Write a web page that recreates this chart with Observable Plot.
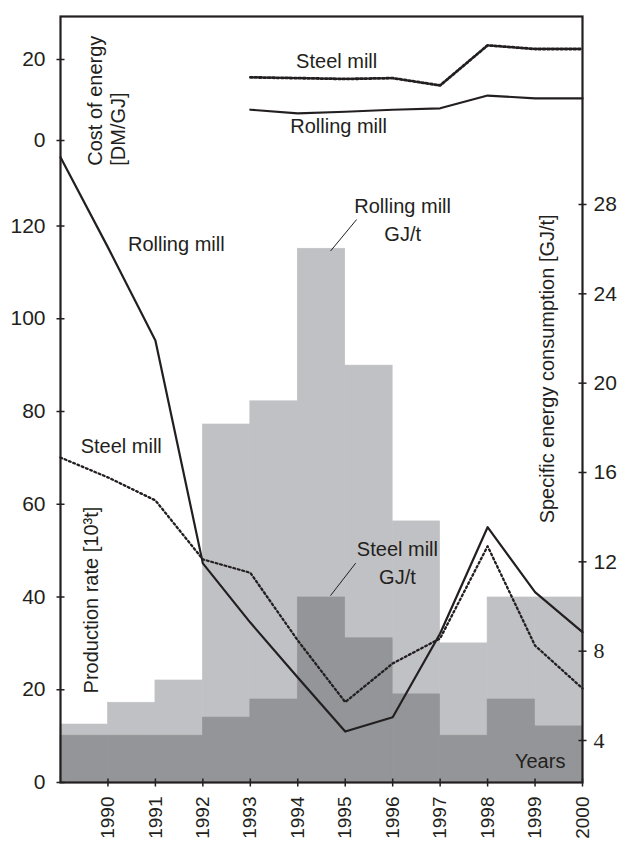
<!DOCTYPE html>
<html>
<head>
<meta charset="utf-8">
<script src="https://cdn.jsdelivr.net/npm/d3@7"></script>
<script src="https://cdn.jsdelivr.net/npm/@observablehq/plot@0.6"></script>
<style>
  html, body { margin: 0; padding: 0; background: #fff; }
  #chart svg { display: block; }
</style>
</head>
<body>
<div id="chart"></div>
<script>
// ---- data ----
const years = [1989, 1990, 1991, 1992, 1993, 1994, 1995, 1996, 1997, 1998, 1999, 2000];
const barYears = [1989, 1990, 1991, 1992, 1993, 1994, 1995, 1996, 1997, 1998, 1999];
// production rate bars [10^3 t]
const rollingBar = [12.5, 17.2, 22.0, 77.2, 82.2, 115.1, 89.9, 56.3, 30.0, 39.9, 39.9];
const steelBar   = [10.1, 10.1, 10.1, 14.0, 17.9, 39.9, 31.1, 19.0, 10.1, 17.9, 12.1];
// specific energy consumption lines [GJ/t]
const rollingGJ = [30.12, 26.08, 21.91, 11.93, 9.28, 6.82, 4.40, 5.04, 8.79, 13.55, 10.64, 8.85];
const steelGJ   = [16.67, 15.78, 14.75, 12.11, 11.51, 8.48, 5.72, 7.45, 8.57, 12.70, 8.25, 6.33];
// cost of energy lines [DM/GJ]
const costYears   = [1993, 1994, 1995, 1996, 1997, 1998, 1999, 2000];
const steelCost   = [15.6, 15.4, 15.2, 15.4, 13.6, 23.5, 22.6, 22.6];
const rollingCost = [7.6, 6.7, 7.1, 7.6, 7.95, 11.1, 10.4, 10.4];
// tick labels
const prodTicks = [0, 20, 40, 60, 80, 100, 120];
const costTicks = [0, 20];
const gjTicksSans = [12, 16, 20, 24, 28];
const gjTicksSerif = [4, 8];
const yearTicks = [1990, 1991, 1992, 1993, 1994, 1995, 1996, 1997, 1998, 1999, 2000];

// ---- secondary axes mapped into production units ----
const gjToY = v => 9.057 + (v - 4) * 4.816;
const yToGj = y => (y - 9.057) / 4.816 + 4;
const costToY = c => 138.44 + 0.8733 * c;
const yToCost = y => (y - 138.44) / 0.8733;

const bars = barYears.map((year, i) => ({year, rolling: rollingBar[i], steel: steelBar[i]}));
const gjLines = years.map((year, i) => ({year, rolling: rollingGJ[i], steel: steelGJ[i]}));
const costLines = costYears.map((year, i) => ({year, rolling: rollingCost[i], steel: steelCost[i]}));

// annotations (data coordinates: year, production units)
const labels = [
  {x: 1994.82, y: 155.5, text: "Steel mill"},
  {x: 1994.86, y: 141.5, text: "Rolling mill"},
  {x: 1991.44, y: 116.0, text: "Rolling mill"},
  {x: 1990.28, y: 72.4, text: "Steel mill"}
];
const blockLabels = [
  {x: 1996.21, y: 121.7, text: "Rolling mill\nGJ/t"},
  {x: 1996.10, y: 47.8, text: "Steel mill\nGJ/t"}
];
const leaders = [
  {x1: 1995.24, y1: 121.4, x2: 1994.69, y2: 114.6},
  {x1: 1995.22, y1: 47.3, x2: 1994.69, y2: 40.3}
];

const ink = "#231f20";
const lightGray = "#c0c1c4";
const darkGray = "#939598";
const hTick = {draw(ctx) { ctx.moveTo(-4, 0); ctx.lineTo(4, 0); }};
const vTick = {draw(ctx) { ctx.moveTo(0, -4); ctx.lineTo(0, 4); }};

const chart = Plot.plot({
  width: 618,
  height: 843,
  marginLeft: 60,
  marginRight: 36,
  marginTop: 16,
  marginBottom: 61,
  x: {domain: [1989, 2000], axis: null},
  y: {domain: [0, 165.18], axis: null},
  style: {fontFamily: "'Liberation Sans', Arial, sans-serif", background: "#fff", color: ink},
  marks: [
    Plot.rect(bars, {x1: "year", x2: d => d.year + 1, y1: 0, y2: "rolling", fill: lightGray, stroke: lightGray, strokeWidth: 0.6}),
    Plot.rect(bars, {x1: "year", x2: d => d.year + 1, y1: 0, y2: "steel", fill: darkGray, stroke: darkGray, strokeWidth: 0.6}),
    Plot.line(gjLines, {x: "year", y: d => gjToY(d.rolling), stroke: ink, strokeWidth: 2.2}),
    Plot.line(gjLines, {x: "year", y: d => gjToY(d.steel), stroke: ink, strokeWidth: 2.3, strokeDasharray: "1.8,2.8"}),
    Plot.line(costLines, {x: "year", y: d => costToY(d.rolling), stroke: ink, strokeWidth: 2.2}),
    Plot.line(costLines, {x: "year", y: d => costToY(d.steel), stroke: ink, strokeWidth: 2.8, strokeDasharray: "2.2,2.2"}),
    Plot.link(leaders, {x1: "x1", y1: "y1", x2: "x2", y2: "y2", stroke: ink, strokeWidth: 1}),
    Plot.frame({stroke: ink, strokeWidth: 2.2}),
    // ticks crossing the axes
    Plot.dot(prodTicks, {y: d => d, frameAnchor: "left", symbol: hTick, stroke: ink, fill: "none", strokeWidth: 1.5}),
    Plot.dot(costTicks, {y: d => costToY(d), frameAnchor: "left", symbol: hTick, stroke: ink, fill: "none", strokeWidth: 1.5}),
    Plot.dot(gjTicksSans.concat(gjTicksSerif), {y: d => gjToY(d), frameAnchor: "right", symbol: hTick, stroke: ink, fill: "none", strokeWidth: 1.5}),
    Plot.dot(yearTicks, {x: d => d, frameAnchor: "bottom", symbol: vTick, stroke: ink, fill: "none", strokeWidth: 1.5}),
    // axes labels
    Plot.axisY(prodTicks, {anchor: "left", tickSize: 0, tickPadding: 15, fontSize: 21, label: null, tickFormat: d => String(d)}),
    Plot.axisY(costTicks.map(costToY), {anchor: "left", tickSize: 0, tickPadding: 15, fontSize: 21, label: null, tickFormat: y => String(Math.round(yToCost(y)))}),
    Plot.axisY(gjTicksSans.map(gjToY), {anchor: "right", tickSize: 0, tickPadding: 11, fontSize: 21, label: null, tickFormat: y => String(Math.round(yToGj(y)))}),
    Plot.axisY(gjTicksSerif.map(gjToY), {anchor: "right", tickSize: 0, tickPadding: 11, fontSize: 22, label: null, fontFamily: "'Liberation Serif', 'Times New Roman', serif", tickFormat: y => String(Math.round(yToGj(y)))}),
    Plot.axisX(yearTicks, {anchor: "bottom", tickSize: 0, tickPadding: 14, tickRotate: -90, fontSize: 19, label: null, tickFormat: d => String(d)}),
    // annotations
    Plot.text(labels, {x: "x", y: "y", text: "text", fontSize: 20, fill: ink}),
    Plot.text(blockLabels, {x: "x", y: "y", text: "text", fontSize: 20, fill: ink, lineHeight: 1.4}),
    Plot.text(["Years"], {x: 1999.64, y: 4.5, text: d => d, textAnchor: "end", fontSize: 20, fill: ink}),
    Plot.text(["Cost of energy\n[DM/GJ]"], {x: 1989.96, y: 133.0, text: d => d, rotate: -90, textAnchor: "start", fontSize: 20, lineHeight: 1.17, fill: ink}),
    Plot.text(["Production rate [10³t]"], {x: 1989.65, y: 19.2, text: d => d, rotate: -90, textAnchor: "start", fontSize: 20, fill: ink}),
    Plot.text(["Specific energy consumption [GJ/t]"], {x: 1999.26, y: 89.2, text: d => d, rotate: -90, textAnchor: "middle", fontSize: 20, fill: ink})
  ]
});
document.getElementById("chart").appendChild(chart);
</script>
</body>
</html>
